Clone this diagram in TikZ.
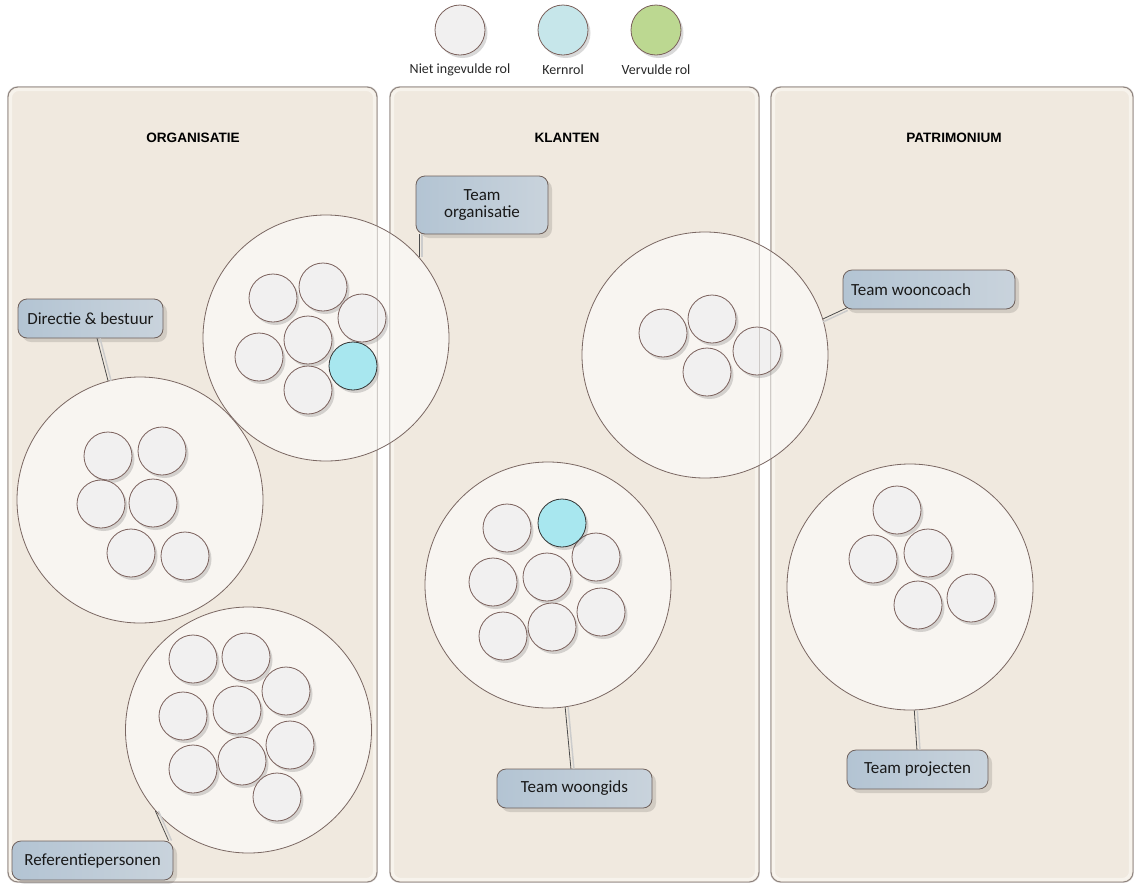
\documentclass[tikz,border=0pt]{standalone}
\usepackage{fontspec}
\setmainfont{Carlito}
\newfontfamily\titlefont{Liberation Sans}
\usetikzlibrary{shadows,calc}
\definecolor{panelfill}{HTML}{F0E9DF}
\definecolor{panelline}{HTML}{8C817C}
\definecolor{panelhi}{HTML}{F7F3EC}
\definecolor{bigfill}{HTML}{FAF8F5}
\definecolor{bigline}{HTML}{7A6762}
\definecolor{smallfill}{HTML}{F1F0F0}
\definecolor{smallline}{HTML}{7A605B}
\definecolor{kernfill}{HTML}{A8E7EF}
\definecolor{kernlegend}{HTML}{C6E6EA}
\definecolor{greenfill}{HTML}{BCD891}
\definecolor{boxleft}{HTML}{B3C4D3}
\definecolor{boxright}{HTML}{C9D3DC}
\definecolor{boxline}{HTML}{6E605B}
\tikzset{
  panelbox/.style={draw=panelline, fill=panelfill, line width=0.9pt, rounded corners=10pt, minimum width=369, minimum height=795, inner sep=0pt},
  panelhigh/.style={draw=panelhi, line width=3pt, rounded corners=8pt},
  paneltitle/.style={font=\titlefont\bfseries\fontsize{13.6}{15}\selectfont, text=black},
  bigcirc/.style={circle, draw=bigline, fill=bigfill, fill opacity=0.85, draw opacity=1, line width=0.8pt, minimum size=246, inner sep=0pt},
  role/.style={circle, draw=smallline, fill=smallfill, line width=0.8pt, minimum size=48, inner sep=0pt,
     drop shadow={shadow xshift=2.5pt, shadow yshift=-3pt, fill=black, opacity=0.15}},
  kern/.style={role, draw=black!80, fill=kernfill},
  filled/.style={role, fill=greenfill},
  teambox/.style={draw=boxline, line width=0.8pt, rounded corners=9pt, left color=boxleft, right color=boxright,
     font=\fontsize{17}{19}\selectfont, text=black!90, inner sep=0pt,
     drop shadow={shadow xshift=4pt, shadow yshift=-4pt, fill=black, opacity=0.12}},
  legendtext/.style={font=\fontsize{14}{16}\selectfont, text=black!85},
  conn/.style={draw=black!70, line width=0.8pt},
  connshadow/.style={draw=black!20, line width=1.5pt},
}
\begin{document}
\begin{tikzpicture}[x=1pt,y=-1pt]
\useasboundingbox (0,0) rectangle (1136,884);
% legend
\node[role, minimum size=50] (lg1) at (460,30) {};
\node[role, fill=kernlegend, minimum size=50] (lg2) at (563,30) {};
\node[filled, minimum size=50] (lg3) at (656,30) {};
\node[legendtext] (lt1) at (460,70) {Niet ingevulde rol};
\node[legendtext] (lt2) at (563,70) {Kernrol};
\node[legendtext] (lt3) at (656,70) {Vervulde rol};
% panels
\node[panelbox] (p1) at (192.5,484.5) {};
\node[panelbox] (p2) at (574.5,484.5) {};
\node[panelbox, minimum width=362] (p3) at (952,484.5) {};
\foreach \p in {p1,p2,p3} {
  \draw[panelhigh] ($(\p.north west)+(3,3)$) rectangle ($(\p.south east)+(-3,-3)$);
}
\node[paneltitle] (t1) at (193,138) {ORGANISATIE};
\node[paneltitle] (t2) at (567,138) {KLANTEN};
\node[paneltitle] (t3) at (954,138) {PATRIMONIUM};
% big circles
\node[bigcirc] (gOrg) at (326,338) {};
\node[bigcirc] (gDir) at (140,500) {};
\node[bigcirc] (gRef) at (248.5,730) {};
\node[bigcirc] (gGids) at (548,585) {};
\node[bigcirc] (gCoach) at (705,355) {};
\node[bigcirc] (gProj) at (910,587) {};
% roles: team organisatie
\foreach \x/\y [count=\i] in {273/298, 323/287, 362/318, 308/340, 259/357, 308/390}
  \node[role] (rOrg\i) at (\x,\y) {};
\node[kern] (kOrg) at (353,366) {};
% directie
\foreach \x/\y [count=\i] in {108/456, 162/451, 101/504, 153/503, 131/553, 185/556}
  \node[role] (rDir\i) at (\x,\y) {};
% referentie
\foreach \x/\y [count=\i] in {193/659, 246/657, 286/691, 183/716, 237/710, 290/745, 193/769, 242/761, 277/797}
  \node[role] (rRef\i) at (\x,\y) {};
% woongids
\foreach \x/\y [count=\i] in {507/528, 596/557, 493/582, 547/577, 601/612, 503/636, 552/627}
  \node[role] (rGids\i) at (\x,\y) {};
\node[kern] (kGids) at (562,523) {};
% wooncoach
\foreach \x/\y [count=\i] in {663/333, 712/319, 757/351, 707/372}
  \node[role] (rCoach\i) at (\x,\y) {};
% projecten
\foreach \x/\y [count=\i] in {897/510, 873/559, 928/553, 918/605, 971/598}
  \node[role] (rProj\i) at (\x,\y) {};
% panel borders seen through circles
\foreach \p in {p1,p2,p3} {
  \draw[draw=panelline, draw opacity=0.35, line width=0.9pt, rounded corners=10pt] (\p.north west) rectangle (\p.south east);
}
% team boxes
\node[teambox, minimum width=132, minimum height=58, align=center] (bOrg) at (482,205) {Team\\[-2pt]organisatie};
\node[teambox, minimum width=145, minimum height=39] (bDir) at (90.5,318.5) {Directie \& bestuur};
\node[teambox, minimum width=161, minimum height=39] (bRef) at (92.5,860.5) {Referentiepersonen};
\node[teambox, minimum width=172, minimum height=39, text width=156, align=flush left] (bCoach) at (929,289.5) {Team wooncoach};
\node[teambox, minimum width=155, minimum height=39] (bGids) at (574.5,788.5) {Team woongids};
\node[teambox, minimum width=141, minimum height=39] (bProj) at (917.5,769.5) {Team projecten};
% connectors
\coordinate (cOrg) at (gOrg.41);
\coordinate (cDir) at ($(bDir.south west)!0.545!(bDir.south east)$);
\coordinate (cRef) at ($(bRef.north west)!0.97!(bRef.north east)$);
\coordinate (cCoach) at ($(bCoach.south west)!0.03!(bCoach.south east)+(0,-2)$);
\coordinate (cGids) at ($(bGids.north west)!0.477!(bGids.north east)$);
\coordinate (cProj) at ($(bProj.north west)!0.496!(bProj.north east)$);
\draw[connshadow] ($(cOrg)+(3,0)$) -- ($(cOrg |- bOrg.south)+(3,0)$);
\draw[connshadow] ($(gDir.105)+(3,0)$) -- ($(cDir)+(3,0)$);
\draw[connshadow] ($(gRef.221)+(3,0)$) -- ($(cRef)+(3,0)$);
\draw[connshadow] ($(gCoach.17)+(0,3)$) -- ($(cCoach)+(0,3)$);
\draw[connshadow] ($(gGids.-82)+(3,0)$) -- ($(cGids)+(3,0)$);
\draw[connshadow] ($(gProj.-88)+(3,0)$) -- ($(cProj)+(3,0)$);
\draw[conn] (cOrg) -- (cOrg |- bOrg.south);
\draw[conn] (gDir.105) -- (cDir);
\draw[conn] (gRef.221) -- (cRef);
\draw[conn] (gCoach.17) -- (cCoach);
\draw[conn] (gGids.-82) -- (cGids);
\draw[conn] (gProj.-88) -- (cProj);
\end{tikzpicture}
\end{document}
